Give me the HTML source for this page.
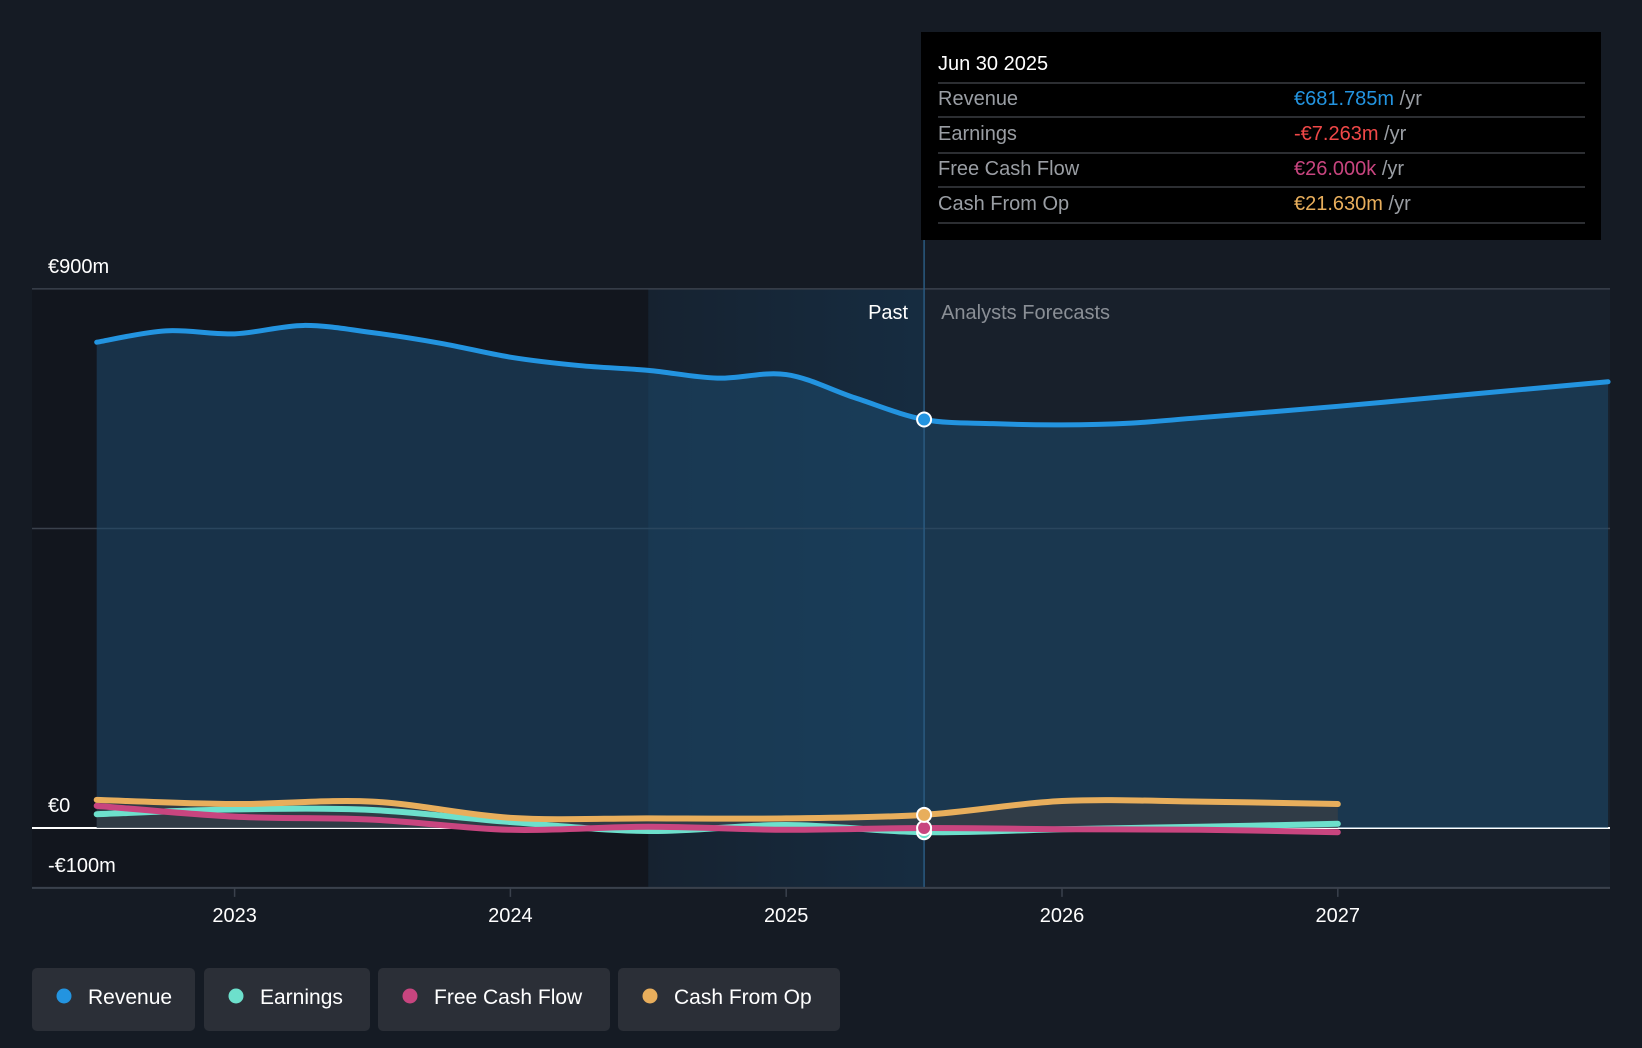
<!DOCTYPE html>
<html><head><meta charset="utf-8"><style>
html,body{margin:0;padding:0;background:#151b24;}
svg{display:block;font-family:"Liberation Sans",sans-serif;}
</style></head><body>
<svg id="chart" width="1642" height="1048" viewBox="0 0 1642 1048">
<defs>
<linearGradient id="bandGrad" x1="0" x2="1" y1="0" y2="0"><stop offset="0" stop-color="#16283a"/><stop offset="1" stop-color="#173a58"/></linearGradient>
</defs>
<rect width="1642" height="1048" fill="#151b24"/>
<g id="layer"></g>
</svg>
<script>
const years=[2022.5,2022.75,2023,2023.25,2023.5,2023.75,2024,2024.25,2024.5,2024.75,2025,2025.25,2025.5,2025.75,2026,2026.25,2026.5,2027,2027.5,2027.98];
const revenue=[811,830,825,839,827,809,786,772,764,751,757,718,682,675,673,676,685,704,725,745];
const cfYears=[2022.5,2023,2023.5,2024,2024.5,2025,2025.5,2026,2026.5,2027];
const cashFromOp=[47,40,44,17,16,16,22,45,44,40];
const earnings=[23,31,30,10,-5,5,-7,-2,2,7];
const freeCashFlow=[37,19,14,-3,2,-3,0,-2,-3,-7];
const yTicks=[900,500,0,-100];
const yLabels=["€900m","","€0","-€100m"];
const xTicks=[2023,2024,2025,2026,2027];

const NS="http://www.w3.org/2000/svg";
const X=v=>234.6+(v-2023)*275.8;
const Y=v=>828-v*0.599;
const L=document.getElementById('layer');
function el(t,a,p){const e=document.createElementNS(NS,t);for(const k in a)e.setAttribute(k,a[k]);(p||L).appendChild(e);return e;}
function path(xs,ys){const p=xs.map((x,i)=>[X(x),Y(ys[i])]);let d=`M${p[0][0]},${p[0][1]}`;
for(let i=0;i<p.length-1;i++){const p0=p[i-1]||p[i],p1=p[i],p2=p[i+1],p3=p[i+2]||p2;
d+=` C${p1[0]+(p2[0]-p0[0])/6},${p1[1]+(p2[1]-p0[1])/6} ${p2[0]-(p3[0]-p1[0])/6},${p2[1]-(p3[1]-p1[1])/6} ${p2[0]},${p2[1]}`;}return d;}
const yTop=Y(900),yBot=Y(-100);
let r=el('rect',{x:32,y:yTop,width:X(2024.5)-32,height:yBot-yTop,fill:'#12161e'});


r=el('rect',{x:X(2024.5),y:yTop,width:X(2025.5)-X(2024.5),height:yBot-yTop,fill:'url(#bandGrad)',opacity:0.55});


r=el('rect',{x:X(2025.5),y:yTop,width:1610-X(2025.5),height:yBot-yTop,fill:'#18202b'});


yTicks.forEach((t,i)=>{const g=el('line',{x1:32,x2:1610,y1:Y(t),y2:Y(t),stroke:t===0?'#ffffff':'#3a414c','stroke-width':t===0?2:1.5});


if(yLabels[i]){const tx=el('text',{x:48,y:Y(t)-16,fill:'#fff','font-size':20});tx.textContent=yLabels[i];

}});
const rd=path(years,revenue);
let a=el('path',{d:rd+` L${X(years[years.length-1])},${Y(0)} L${X(years[0])},${Y(0)} Z`,fill:'#1d4a6e',opacity:0.55});


a=el('path',{d:path(cfYears,cashFromOp)+` L${X(2027)},${Y(0)} L${X(2022.5)},${Y(0)} Z`,fill:'#3a3f44',opacity:0.7});


let dv=el('line',{x1:X(2025.5),x2:X(2025.5),y1:240,y2:yBot,stroke:'#2a5a80','stroke-width':1.5});


const series=[['earnings-line',cfYears,earnings,'#6de0cc'],['free-cash-flow-line',cfYears,freeCashFlow,'#c8457f'],['cash-from-op-line',cfYears,cashFromOp,'#e8ae5c'],['revenue-line',years,revenue,'#2394e0']];
series.forEach(s=>{const p=el('path',{d:path(s[1],s[2]),fill:'none',stroke:s[3],'stroke-width':s[0]==='revenue-line'?5:6,'stroke-linecap':'round'});

});
[['earnings-marker',earnings[6],'#6de0cc'],['fcf-marker',freeCashFlow[6],'#c8457f'],['cash-from-op-marker',cashFromOp[6],'#e8ae5c'],['revenue-marker',revenue[12],'#2394e0']].forEach(m=>{
const c=el('circle',{cx:X(2025.5),cy:Y(m[1]),r:7,fill:m[2],stroke:'#fff','stroke-width':2});

});
let ax=el('line',{x1:32,x2:1610,y1:yBot,y2:yBot,stroke:'#3a414c','stroke-width':2});


xTicks.forEach(t=>{const tk=el('line',{x1:X(t),x2:X(t),y1:yBot,y2:yBot+9,stroke:'#3a414c','stroke-width':1.5});


const tx=el('text',{x:X(t),y:922,fill:'#fff','font-size':20,'text-anchor':'middle'});tx.textContent=t;

});
let t1=el('text',{x:X(2025.5)-16,y:319,fill:'#fff','font-size':20,'text-anchor':'end'});t1.textContent='Past';


let t2=el('text',{x:X(2025.5)+17,y:319,fill:'#8a8f96','font-size':20});t2.textContent='Analysts Forecasts';


const tg=el('g',{});


el('rect',{x:921,y:32,width:680,height:208,fill:'#000'},tg);
let tt=el('text',{x:938,y:70,fill:'#fff','font-size':20},tg);tt.textContent='Jun 30 2025';


const rows=[['Revenue','€681.785m','#2394e0'],['Earnings','-€7.263m','#f04848'],['Free Cash Flow','€26.000k','#c8457f'],['Cash From Op','€21.630m','#e8ae5c']];
const rowY=[105,140,175,210],sepY=[83,117,153,187,223];
sepY.forEach(y=>el('line',{x1:938,x2:1585,y1:y,y2:y,stroke:'#3a3d42','stroke-width':1.5},tg));
rows.forEach((rw,i)=>{const l=el('text',{x:938,y:rowY[i],fill:'#9a9ea4','font-size':20},tg);l.textContent=rw[0];


const v=el('text',{x:1294,y:rowY[i],'font-size':20},tg);
const s1=el('tspan',{fill:rw[2]},v);s1.textContent=rw[1];const s2=el('tspan',{fill:'#9a9ea4'},v);s2.textContent=' /yr';

});
const leg=[['Revenue','#2394e0',32,163],['Earnings','#6de0cc',204,166],['Free Cash Flow','#c8457f',378,232],['Cash From Op','#e8ae5c',618,222]];
leg.forEach(g=>{const gg=el('g',{});


el('rect',{x:g[2],y:968,width:g[3],height:63,rx:5,fill:'#2b2f37'},gg);
el('circle',{cx:g[2]+32,cy:996,r:7.5,fill:g[1]},gg);
const t=el('text',{x:g[2]+56,y:1004,fill:'#fff','font-size':21},gg);t.textContent=g[0];});
</script>
</body></html>
